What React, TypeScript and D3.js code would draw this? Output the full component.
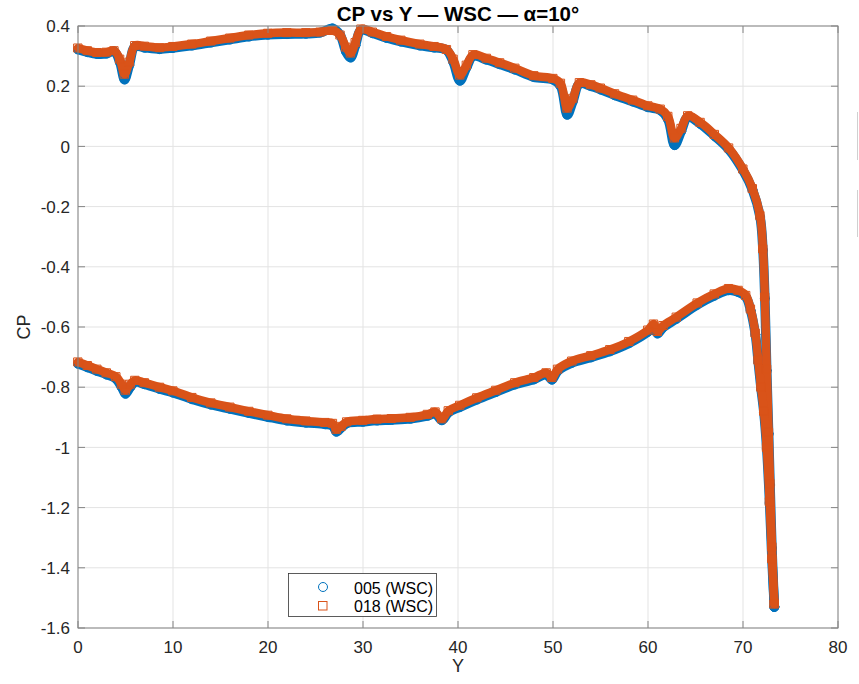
import React from "react";
import * as d3 from "d3";

// ---------- data ----------
const Y_UPPER = [0, 1, 2, 3, 3.8, 4.4, 4.9, 5.4, 6.0, 7, 8.6, 10, 12, 14, 16, 18, 20, 22, 24, 25.5, 26.8, 27.6, 28.2, 28.7, 29.2, 29.8, 31, 32.5, 34, 36, 37.5, 38.8, 39.5, 40.2, 40.9, 41.6, 43, 44.4, 46, 48, 50, 50.8, 51.5, 52.1, 52.8, 54, 55, 56.5, 58.4, 60, 61.3, 62.1, 62.8, 63.5, 64.2, 65.5, 67, 68.5, 70, 71, 71.8, 72.1, 72.3, 72.5, 72.7, 72.85, 73.05, 73.3];
const CP_UPPER_018 = [0.327, 0.318, 0.312, 0.313, 0.318, 0.29, 0.24, 0.28, 0.335, 0.333, 0.328, 0.332, 0.34, 0.35, 0.36, 0.37, 0.376, 0.378, 0.378, 0.38, 0.385, 0.37, 0.33, 0.31, 0.345, 0.39, 0.38, 0.365, 0.353, 0.34, 0.332, 0.322, 0.29, 0.237, 0.27, 0.305, 0.293, 0.278, 0.26, 0.235, 0.226, 0.21, 0.127, 0.16, 0.212, 0.205, 0.194, 0.175, 0.154, 0.135, 0.124, 0.1, 0.028, 0.06, 0.102, 0.08, 0.04, -0.005, -0.075, -0.14, -0.23, -0.34, -0.5, -0.74, -0.95, -1.12, -1.33, -1.52];
const CP_UPPER_005 = [0.322, 0.313, 0.307, 0.308, 0.316, 0.28, 0.222, 0.27, 0.332, 0.328, 0.323, 0.327, 0.335, 0.345, 0.355, 0.365, 0.371, 0.373, 0.374, 0.378, 0.392, 0.37, 0.315, 0.295, 0.335, 0.387, 0.376, 0.36, 0.348, 0.335, 0.328, 0.32, 0.28, 0.218, 0.262, 0.3, 0.288, 0.273, 0.255, 0.23, 0.222, 0.2, 0.105, 0.15, 0.208, 0.2, 0.189, 0.17, 0.149, 0.13, 0.12, 0.09, 0.004, 0.05, 0.098, 0.075, 0.035, -0.01, -0.08, -0.145, -0.235, -0.345, -0.505, -0.745, -0.955, -1.125, -1.335, -1.53];

const Y_LOWER = [0, 1, 2, 3, 4, 4.6, 5.0, 5.5, 6.0, 7, 8.6, 10, 12, 14, 16, 18, 20, 22, 24, 26, 26.8, 27.2, 27.7, 28.3, 30, 31.5, 33, 35, 36.8, 37.6, 38.3, 39.0, 40.2, 42, 44, 46, 48, 49.3, 49.9, 50.5, 52, 54, 56, 58, 60, 60.6, 61.0, 61.6, 63, 65.2, 67, 68.5, 69.5, 70.3, 70.8, 71.3, 71.6, 71.9, 72.2, 72.5, 72.8, 73.05, 73.3];
const CP_LOWER_018 = [-0.716, -0.728, -0.74, -0.752, -0.765, -0.79, -0.81, -0.79, -0.777, -0.785, -0.8, -0.812, -0.834, -0.852, -0.866, -0.88, -0.893, -0.905, -0.912, -0.917, -0.92, -0.94, -0.93, -0.915, -0.91, -0.906, -0.904, -0.9, -0.89, -0.882, -0.905, -0.878, -0.86, -0.835, -0.81, -0.785, -0.768, -0.752, -0.768, -0.74, -0.713, -0.695, -0.675, -0.648, -0.61, -0.59, -0.615, -0.595, -0.567, -0.52, -0.49, -0.472, -0.478, -0.495, -0.54, -0.62, -0.71, -0.8, -0.88, -1.0, -1.18, -1.37, -1.52];
const CP_LOWER_005 = [-0.722, -0.734, -0.746, -0.758, -0.772, -0.8, -0.822, -0.8, -0.783, -0.79, -0.806, -0.818, -0.84, -0.858, -0.872, -0.886, -0.899, -0.911, -0.918, -0.923, -0.928, -0.948, -0.935, -0.92, -0.915, -0.911, -0.909, -0.905, -0.895, -0.888, -0.91, -0.884, -0.866, -0.841, -0.816, -0.791, -0.774, -0.758, -0.775, -0.746, -0.719, -0.701, -0.681, -0.654, -0.616, -0.597, -0.622, -0.601, -0.573, -0.526, -0.496, -0.478, -0.484, -0.5, -0.545, -0.625, -0.715, -0.805, -0.885, -1.005, -1.185, -1.375, -1.53];

const X_TICKS = [0, 10, 20, 30, 40, 50, 60, 70, 80];
const Y_TICKS = [0.4, 0.2, 0, -0.2, -0.4, -0.6, -0.8, -1, -1.2, -1.4, -1.6];
const Y_TICK_LABELS = ["0.4", "0.2", "0", "-0.2", "-0.4", "-0.6", "-0.8", "-1", "-1.2", "-1.4", "-1.6"];
const SERIES_NAMES = ["005 (WSC)", "018 (WSC)"];

const BLUE = "#0072BD";
const ORANGE = "#D95319";

export default function App() {
  const left = 78, right = 838, top = 26, bottom = 628;
  const x = d3.scaleLinear().domain([0, 80]).range([left, right]);
  const y = d3.scaleLinear().domain([-1.6, 0.4]).range([bottom, top]);
  const line = d3
    .line<[number, number]>()
    .x((d) => x(d[0]))
    .y((d) => y(d[1]))
    .curve(d3.curveCatmullRom.alpha(0.5));

  const zip = (xs: number[], ys: number[]) => xs.map((v, i) => [v, ys[i]] as [number, number]);
  const blueUp = zip(Y_UPPER, CP_UPPER_005);
  const blueLo = zip(Y_LOWER, CP_LOWER_005);
  const orUp = zip(Y_UPPER, CP_UPPER_018);
  const orLo = zip(Y_LOWER, CP_LOWER_018);

  const font = "'Liberation Sans', Arial, Helvetica, sans-serif";
  const tickLen = 7;

  return (
    <svg
      width={859}
      height={684}
      style={{ position: "absolute", left: 0, top: 0, background: "#fff" }}
      fontFamily={font}
    >
      <rect x={0} y={0} width={859} height={684} fill="#fff" />
      {/* grid */}
      {X_TICKS.map((t) => (
        <line key={"gx" + t} x1={x(t)} x2={x(t)} y1={top} y2={bottom} stroke="#e3e3e3" strokeWidth={1} />
      ))}
      {Y_TICKS.map((t) => (
        <line key={"gy" + t} x1={left} x2={right} y1={y(t)} y2={y(t)} stroke="#e3e3e3" strokeWidth={1} />
      ))}

      {/* series bands */}
      <g fill="none" strokeLinejoin="round" strokeLinecap="round">
        <path d={line(blueUp) || ""} stroke={BLUE} strokeWidth={9.5} />
        <path d={line(blueLo) || ""} stroke={BLUE} strokeWidth={9.5} />
        {blueUp.concat(blueLo).map((d, i) => (
          <circle key={"bc" + i} cx={x(d[0])} cy={y(d[1])} r={4.5} stroke={BLUE} strokeWidth={1} />
        ))}
        <path d={line(orUp) || ""} stroke={ORANGE} strokeWidth={8.5} />
        <path d={line(orLo) || ""} stroke={ORANGE} strokeWidth={8.5} />
        {orUp.concat(orLo).map((d, i) => (
          <rect key={"os" + i} x={x(d[0]) - 4} y={y(d[1]) - 4} width={8} height={8} stroke={ORANGE} strokeWidth={1} />
        ))}
      </g>

      {/* axes box */}
      <rect x={left} y={top} width={right - left} height={bottom - top} fill="none" stroke="#858585" strokeWidth={1} />
      {X_TICKS.map((t) => (
        <g key={"tx" + t}>
          <line x1={x(t)} x2={x(t)} y1={bottom} y2={bottom - tickLen} stroke="#858585" />
          <line x1={x(t)} x2={x(t)} y1={top} y2={top + tickLen} stroke="#858585" />
          <text x={x(t)} y={653} textAnchor="middle" fontSize={17} fill="#262626">
            {String(t)}
          </text>
        </g>
      ))}
      {Y_TICKS.map((t, i) => (
        <g key={"ty" + t}>
          <line x1={left} x2={left + tickLen} y1={y(t)} y2={y(t)} stroke="#858585" />
          <line x1={right} x2={right - tickLen} y1={y(t)} y2={y(t)} stroke="#858585" />
          <text x={70} y={y(t)} dy="0.36em" textAnchor="end" fontSize={17} fill="#262626">
            {Y_TICK_LABELS[i]}
          </text>
        </g>
      ))}

      {/* labels */}
      <text x={(left + right) / 2} y={20.5} textAnchor="middle" fontSize={20.5} fontWeight="bold" fill="#000">
        CP vs Y — WSC — α=10°
      </text>
      <text x={(left + right) / 2} y={672} textAnchor="middle" fontSize={18} fill="#262626">
        Y
      </text>
      <text transform={`translate(30, ${(top + bottom) / 2}) rotate(-90)`} textAnchor="middle" fontSize={18} fill="#262626">
        CP
      </text>

      {/* legend */}
      <rect x={288.5} y={573.5} width={148} height={43} fill="#fff" stroke="#333" strokeWidth={0.8} />
      <circle cx={323} cy={587} r={4.5} fill="none" stroke={BLUE} strokeWidth={1} />
      <rect x={318.5} y={601.5} width={8.5} height={8.5} fill="none" stroke={ORANGE} strokeWidth={1} />
      <text x={354} y={593.5} fontSize={16} fill="#000">{SERIES_NAMES[0]}</text>
      <text x={354} y={612} fontSize={16} fill="#000">{SERIES_NAMES[1]}</text>

      {/* cropped UI marks at right edge */}
      <line x1={857.5} x2={857.5} y1={112} y2={160} stroke="#d0d0d0" />
      <line x1={857.5} x2={857.5} y1={190} y2={237} stroke="#d0d0d0" />
    </svg>
  );
}
